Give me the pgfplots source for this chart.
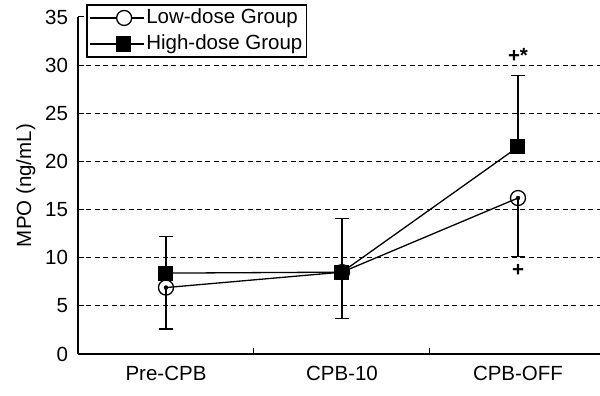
\documentclass[border=0pt]{standalone}
\usepackage{pgfplots}
\pgfplotsset{compat=1.18}
\usepackage{fontspec}
\setmainfont{Liberation Sans}
\newcommand{\ff}{\fontsize{20.5}{24}\selectfont}
\begin{document}
\ff
\begin{tikzpicture}
\path[use as bounding box] (-78pt,-42pt) rectangle (522pt,354pt);
\begin{axis}[
  at={(0,0)}, anchor=south west,
  scale only axis, width=522pt, height=337pt,
  xmin=-0.5, xmax=2.466, ymin=0, ymax=35,
  axis lines*=left,
  axis line style={line width=1.3pt},
  /pgf/number format/assume math mode=true,
  ticklabel style={font=\ff},
  ytick={0,5,...,35},
  y tick label style={xshift=-3pt},
  xtick={0.5,1.5}, xticklabels={},
  tick align=inside, major tick length=6pt,
  tick style={line width=1pt, black},
  extra x ticks={0,1,2},
  extra x tick labels={Pre-CPB,CPB-10,CPB-OFF},
  extra x tick style={major tick length=0pt, tick label style={yshift=-5pt}},
  extra y ticks={5,10,...,30}, extra y tick labels={},
  extra y tick style={grid=major},
  major grid style={line width=1.1pt, black, dash pattern=on 5pt off 3.5pt},
  ylabel={MPO (ng/mL)},
  ylabel style={yshift=-4pt},
  label style={font=\ff},
  legend style={at={(9pt,349pt)}, anchor=north west, draw=black, line width=1.3pt,
    font=\ff, row sep=4pt, inner sep=2pt, outer sep=0pt},
  legend cell align=left,
]
% error bars (one-sided)
\addplot[forget plot, only marks, mark=none,
  error bars/.cd, y dir=minus, y explicit, error mark options={rotate=90, mark size=7pt, line width=1.3pt, black},
  error bar style={line width=1.3pt, black}]
  coordinates {(0,6.9) -= (0,4.3) (1,8.5) -= (0,4.8) (2,16.2) -= (0,6.1)};
\addplot[forget plot, only marks, mark=none,
  error bars/.cd, y dir=plus, y explicit, error mark options={rotate=90, mark size=7pt, line width=1.3pt, black},
  error bar style={line width=1.3pt, black}]
  coordinates {(0,8.4) += (0,3.8) (1,8.5) += (0,5.6) (2,21.5) += (0,7.4)};
% series
\addplot[black, line width=1.3pt, mark=o, mark size=7.5pt, mark options={fill=white, solid, line width=1.3pt},
  legend image code/.code={\draw[black, line width=1.3pt] (0pt,0pt) -- (54pt,0pt);
    \node[circle, draw=black, fill=white, line width=1.3pt, minimum size=15pt, inner sep=0pt] at (27pt,0pt) {};}]
  coordinates {(0,6.9) (1,8.5) (2,16.2)};
\addlegendentry{Low-dose Group}
\addplot[black, line width=1.3pt, mark=square*, mark size=7pt, mark options={solid, line width=1pt},
  legend image code/.code={\draw[black, line width=1.3pt] (0pt,0pt) -- (54pt,0pt);
    \node[rectangle, draw=black, fill=black, minimum size=14pt, inner sep=0pt] at (27pt,0pt) {};}]
  coordinates {(0,8.4) (1,8.5) (2,21.5)};
\addlegendentry{High-dose Group}
\node[font=\ff\bfseries] at (axis cs:2,31.0) {+*};
\node[font=\ff\bfseries] at (axis cs:2,8.7) {+};
\end{axis}
\end{tikzpicture}
\end{document}
